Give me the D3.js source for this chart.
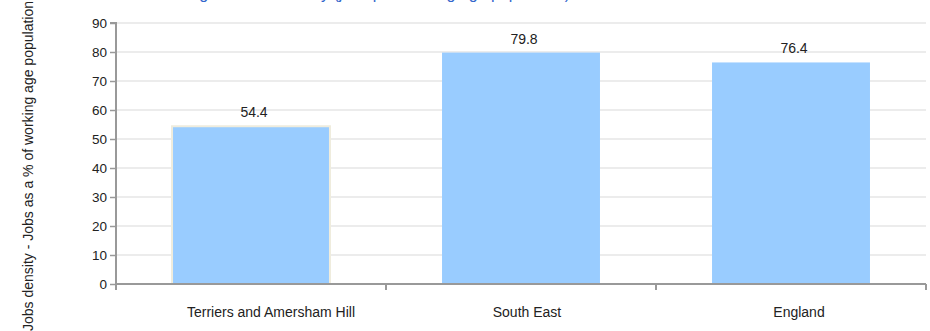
<!DOCTYPE html>
<html>
<head>
<meta charset="utf-8">
<script src="https://cdn.jsdelivr.net/npm/d3@7"></script>
<style>
  html, body { margin: 0; padding: 0; background: #fff; }
  svg { display: block; font-family: "Liberation Sans", Arial, sans-serif; }
</style>
</head>
<body>
<svg id="chart" width="930" height="331"></svg>
<script>
const categories = ["Terriers and Amersham Hill", "South East", "England"];
const values = [54.4, 79.8, 76.4];
const yTicks = [0, 10, 20, 30, 40, 50, 60, 70, 80, 90];
const yTitle = "Jobs density - Jobs as a % of working age population";
const chartTitle = "Figure: Jobs density (jobs per working age population)";

const svg = d3.select("#chart");
const mLeft = 116, mRight = 926, mTop = 23, mBottom = 284;
const catLabelShift = [20, 6, 8];

const x = d3.scaleBand().domain(categories).range([mLeft, mRight]).padding(0);
const y = d3.scaleLinear().domain([0, 90]).range([mBottom, mTop]);

// title (cut off at top, as in the reference)
svg.append("text")
  .attr("x", 378).attr("y", -1.5)
  .attr("text-anchor", "middle")
  .attr("font-size", 16)
  .attr("fill", "#3366cc")
  .text(chartTitle);

// gridlines
svg.append("g").selectAll("line")
  .data(yTicks.filter(d => d > 0))
  .join("line")
  .attr("x1", mLeft).attr("x2", mRight)
  .attr("y1", d => y(d)).attr("y2", d => y(d))
  .attr("stroke", "#ececec").attr("stroke-width", 2);

// bars
const bw = x.bandwidth() * 0.585;
svg.append("g").selectAll("rect")
  .data(values)
  .join("rect")
  .attr("x", (d, i) => x(categories[i]) + (x.bandwidth() - bw) / 2)
  .attr("y", d => y(d))
  .attr("width", bw)
  .attr("height", d => mBottom - y(d))
  .attr("fill", "#99ccff")
  .attr("stroke", (d, i) => i === 0 ? "#efecdd" : "none")
  .attr("stroke-width", 2);

// value labels
svg.append("g").selectAll("text")
  .data(values)
  .join("text")
  .attr("x", (d, i) => x(categories[i]) + x.bandwidth() / 2 + 3)
  .attr("y", d => y(d) - 9)
  .attr("text-anchor", "middle")
  .attr("font-size", 14)
  .attr("fill", "#222")
  .text(d => d.toFixed(1));

// y axis
const yAxis = d3.axisLeft(y).tickValues(yTicks).tickSize(6).tickPadding(3);
const gy = svg.append("g").attr("transform", `translate(${mLeft},0)`).call(yAxis);
gy.select(".domain").attr("stroke", "#999").attr("stroke-width", 2).attr("d", `M-6,${mTop}H0V${mBottom + 6}`);
gy.selectAll(".tick line").attr("stroke", "#999").attr("stroke-width", 1.5);
gy.selectAll(".tick text").attr("font-size", 13.5).attr("fill", "#222")
  .attr("font-family", "Liberation Sans, Arial, sans-serif");

// x axis
const xAxis = d3.axisBottom(x).tickSize(0).tickPadding(23);
const gx = svg.append("g").attr("transform", `translate(0,${mBottom})`).call(xAxis);
gx.select(".domain").attr("stroke", "#999").attr("stroke-width", 2).attr("d", `M${mLeft},0H${mRight}`);
gx.selectAll(".tick text").attr("font-size", 14).attr("fill", "#222")
  .attr("font-family", "Liberation Sans, Arial, sans-serif")
  .attr("dx", (d, i) => catLabelShift[i]);
// category boundary ticks
const bounds = categories.map(c => x(c)).concat([mRight]);
gx.append("g").selectAll("line").data(bounds).join("line")
  .attr("x1", d => d).attr("x2", d => d)
  .attr("y1", 0).attr("y2", 6)
  .attr("stroke", "#999").attr("stroke-width", 2);

// y title
svg.append("text")
  .attr("transform", `translate(33,166) rotate(-90)`)
  .attr("text-anchor", "middle")
  .attr("font-size", 14)
  .attr("fill", "#222")
  .text(yTitle);
</script>
</body>
</html>
